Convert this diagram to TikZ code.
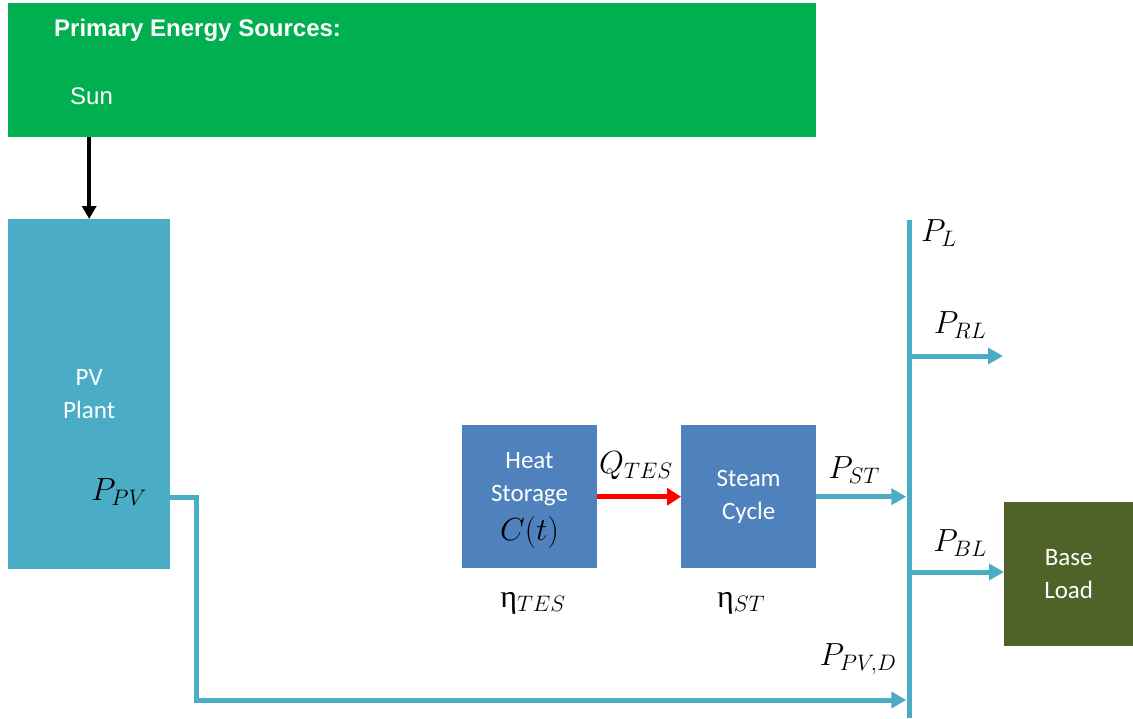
\RequirePackage{fix-cm}
\documentclass[tikz,border=0pt]{standalone}
\usepackage{fontspec}
\setmainfont{Carlito}
\newfontfamily\headfont{Liberation Sans}
\newfontfamily\etafont{Liberation Serif}
\usetikzlibrary{arrows.meta}

\definecolor{srcgreen}{HTML}{00B050}
\definecolor{pvcol}{HTML}{4BACC6}
\definecolor{blockblue}{HTML}{4F81BD}
\definecolor{loadgreen}{HTML}{4F6228}
\definecolor{linecol}{HTML}{4BACC6}

\begin{document}
\begin{tikzpicture}[x=1pt,y=-1pt,
  block/.style={inner sep=0pt, text=white, align=center, anchor=north west,
    font=\fontsize{25}{33}\selectfont},
  blocktext/.style={inner sep=0pt, text=white, align=center,
    font=\fontsize{25}{33}\selectfont},
  flow/.style={line width=5pt, draw=linecol, -{Triangle[length=15pt,width=16pt]}},
  sym/.style={inner sep=0pt, font=\fontsize{32}{34}\selectfont},
  srctext/.style={inner sep=0pt, anchor=west, text=white}
]
\useasboundingbox (0,0) rectangle (1133,718);

% primary energy sources
\node[fill=srcgreen, minimum width=808, minimum height=134, inner sep=0pt, anchor=north west] (src) at (8,3) {};
\node[srctext, font=\headfont\bfseries\fontsize{24}{26}\selectfont] (hdr) at (54,30) {Primary Energy Sources:};
\node[srctext, font=\headfont\fontsize{24}{26}\selectfont] (sun) at (70,96) {Sun};

% blocks
\node[block, fill=pvcol, minimum width=162, minimum height=350] (pv) at (8,219) {PV\\Plant};
\node[block, fill=blockblue, minimum width=135, minimum height=143] (hs) at (462,425) {};
\node[blocktext, anchor=north] (hstext) at (529.5,452)
  {Heat\\Storage\\[6pt]{\color{black}\fontsize{32}{34}\selectfont$C(t)$}};
\node[block, fill=blockblue, minimum width=135, minimum height=143] (sc) at (681,425) {Steam\\Cycle};
\node[block, fill=loadgreen, minimum width=129, minimum height=144] (bl) at (1004,502) {Base\\Load};

% load bus
\node[fill=linecol, minimum width=5, minimum height=498, inner sep=0pt] (bus) at (909,469) {};

% connectors
\draw[line width=4pt, -{Triangle[length=13pt,width=14pt]}] (pv.north |- src.south) -- (pv.north);
\coordinate (pvout) at (170,497);
\coordinate (rlend) at (1003,356);
\draw[flow] (pvout) -| (196,700) -- (bus.west |- 0,700);
\draw[line width=5pt, red, -{Triangle[length=14pt,width=17pt]}] (hs.east) -- (sc.west);
\draw[flow] (sc.east) -- (bus.west |- sc.east);
\draw[flow] (bus.east |- rlend) -- (rlend);
\draw[flow] (bus.east |- 0,572) -- (bl.west |- 0,572);

% symbols
\node[sym] (ppv) at (119,492) {$P_{PV}$};
\node[sym] (qtes) at (636,466) {$Q_{TES}$};
\node[sym] (etes) at (533,603) {{\etafont η}$_{TES}$};
\node[sym] (est) at (741,603) {{\etafont η}$_{ST}$};
\node[sym] (pst) at (854,470) {$P_{ST}$};
\node[sym] (pl) at (939,233) {$P_{L}$};
\node[sym] (prl) at (960,325) {$P_{RL}$};
\node[sym] (pbl) at (960,543) {$P_{BL}$};
\node[sym] (ppvd) at (858,659) {$P_{PV,D}$};
\end{tikzpicture}
\end{document}
